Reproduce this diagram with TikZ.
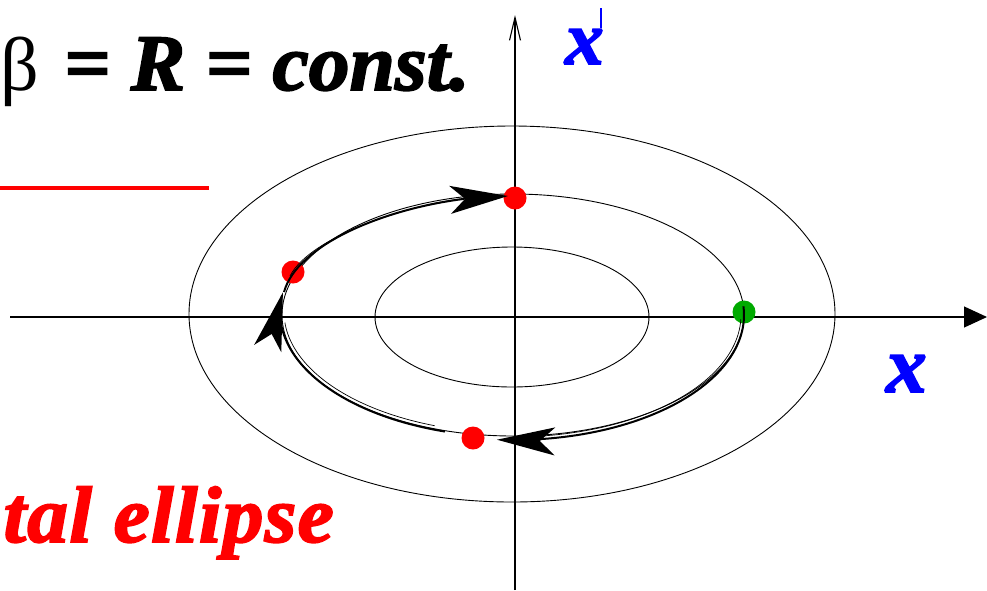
\documentclass[tikz,border=0pt]{standalone}
\usepackage{fontspec}
\setmainfont{Liberation Serif}
\newfontfamily\heavy[BoldItalicFeatures={FakeBold=2.2,FakeStretch=1.02}]{Liberation Serif}
\usetikzlibrary{arrows.meta,bending}
\definecolor{myblue}{RGB}{0,0,255}
\definecolor{mygreen}{RGB}{0,170,0}
\definecolor{myred}{RGB}{255,0,0}
\tikzset{
  axis/.style={line width=1.1pt},
  orbit/.style={line width=0.9pt},
  traj/.style={line width=2pt},
  strand/.style={line width=0.7pt},
  head/.style={-{Stealth[length=58pt,width=28pt,inset=15pt,flex]}},
  dot/.style={circle, inner sep=0pt, minimum size=23pt, fill=#1},
  bigtext/.style={font={\heavy\bfseries\itshape\fontsize{80}{82}\selectfont}},
  midtext/.style={font={\heavy\bfseries\itshape\fontsize{76}{78}\selectfont}},
}
\begin{document}
\begin{tikzpicture}[x=1pt,y=-1pt]
\useasboundingbox (0,0) rectangle (987,590);
\clip (0,0) rectangle (987,590);
% axes
\coordinate (xs) at (10,317); \coordinate (xe) at (987,317);
\coordinate (ys) at (515,590); \coordinate (ye) at (515,15);
\draw[axis,-{Triangle[length=23pt,width=21pt]}] (xs) -- (xe);
\draw[axis,-{Straight Barb[length=23pt,width=11pt]}] (ys) -- (ye);
% ellipses
\coordinate (Oi) at (512,317);
\coordinate (Om) at (513,315);
\coordinate (Oo) at (512,314);
\draw[orbit] (Oi) ellipse [x radius=137pt, y radius=70pt];
\draw[orbit] (Om) ellipse [x radius=231pt, y radius=121pt];
\draw[orbit] (Oo) ellipse [x radius=323pt, y radius=188pt];
% dots
\node[dot=myred] (p1) at (515,198) {};
\node[dot=myred] (p2) at (293,272) {};
\node[dot=myred] (p3) at (473,438) {};
\node[dot=mygreen] (p0) at (744,312) {};
% trajectory
\draw[traj,head] plot[domain=-4:94, samples=60, variable=\t] ({513+231*cos(\t)},{315+125*sin(\t)});
\draw[strand] plot[domain=2:85, samples=50, variable=\t] ({513+228*cos(\t)},{315+122*sin(\t)});
\draw[traj,head] plot[domain=107:189, samples=60, variable=\t] ({513+233*cos(\t)},{312+125*sin(\t)});
\draw[strand] plot[domain=110:175, samples=50, variable=\t] ({513+229*cos(\t)},{312+121*sin(\t)});
\coordinate (s3a) at (284,292);
\coordinate (s3b) at (508,196);
\draw[traj,head] (s3a) .. controls (300,235) and (420,196) .. (s3b);
\draw[strand] (290,276) .. controls (310,236) and (415,202) .. (470,198);
% texts
\node[font={\fontsize{76}{80}\selectfont}, anchor=base west, inner sep=0pt] (beta) at (0,90) {β};
\node[bigtext, anchor=base east, inner sep=0pt] (eq) at (470,90) {= R = const.};
\node[bigtext, text=myred, anchor=base east, inner sep=0pt] (ell) at (334,542) {\addfontfeature{LetterSpace=1.5}tal ellipse};
\node[midtext, text=myblue, anchor=base east, inner sep=0pt] (xp) at (604,64) {x};
\node[fill=myblue, inner sep=0pt, minimum width=1.8pt, minimum height=20pt] (prime) at (601,18) {};
\node[bigtext, text=myblue, anchor=base east, inner sep=0pt] (xl) at (927,392) {x};
% red line
\coordinate (r1) at (0,188); \coordinate (r2) at (209,188);
\draw[myred, line width=4pt] (r1) -- (r2);
\end{tikzpicture}
\end{document}
